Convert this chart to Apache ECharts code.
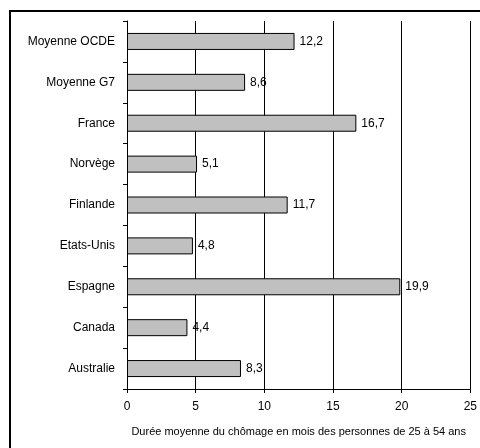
<!DOCTYPE html>
<html>
<head>
<meta charset="utf-8">
<script src="https://cdn.jsdelivr.net/npm/echarts@6/dist/echarts.min.js"></script>
<style>html,body{margin:0;padding:0;background:#fff}#c{width:480px;height:448px}</style>
</head>
<body>
<div id="c"></div>
<script>
const categories = ['Australie','Canada','Espagne','Etats-Unis','Finlande','Norvège','France','Moyenne G7','Moyenne OCDE'];
const values = [8.3, 4.4, 19.9, 4.8, 11.7, 5.1, 16.7, 8.6, 12.2];
const xTicks = [0, 5, 10, 15, 20, 25];
const axisTitle = 'Durée moyenne du chômage en mois des personnes de 25 à 54 ans';

const font = 'Liberation Sans, Arial, sans-serif';
const chart = echarts.init(document.getElementById('c'), null, {renderer: 'canvas'});
chart.setOption({
  animation: false,
  textStyle: {fontFamily: font},
  graphic: [{
    type: 'rect', shape: {x: 10, y: 11, width: 480, height: 448},
    style: {fill: 'none', stroke: '#000', lineWidth: 2}, silent: true, z: 10
  }],
  grid: {left: 127, right: 9, top: 21, bottom: 59, containLabel: false},
  xAxis: {
    type: 'value', min: xTicks[0], max: xTicks[xTicks.length - 1], interval: 5,
    name: axisTitle, nameLocation: 'middle', nameGap: 37,
    nameTextStyle: {color: '#000', fontSize: 11, fontFamily: font},
    axisLine: {show: true, lineStyle: {color: '#000', width: 1}},
    axisTick: {show: true, length: 4, lineStyle: {color: '#000'}},
    axisLabel: {color: '#000', fontSize: 12, margin: 12, fontFamily: font},
    splitLine: {show: true, lineStyle: {color: '#000', width: 1}}
  },
  yAxis: {
    type: 'category', data: categories,
    axisLine: {show: true, lineStyle: {color: '#000', width: 1}},
    axisTick: {show: true, length: 4, lineStyle: {color: '#000'}},
    axisLabel: {color: '#000', fontSize: 12, margin: 12, fontFamily: font},
    splitLine: {show: false}
  },
  series: [{
    type: 'bar', data: values, barWidth: 17,
    itemStyle: {color: '#c0c0c0', borderColor: '#000', borderWidth: 1},
    label: {
      show: true, position: 'right', distance: 5, color: '#000', fontSize: 12, fontFamily: font,
      formatter: p => String(p.value).replace('.', ',')
    }
  }]
});
</script>
</body>
</html>
